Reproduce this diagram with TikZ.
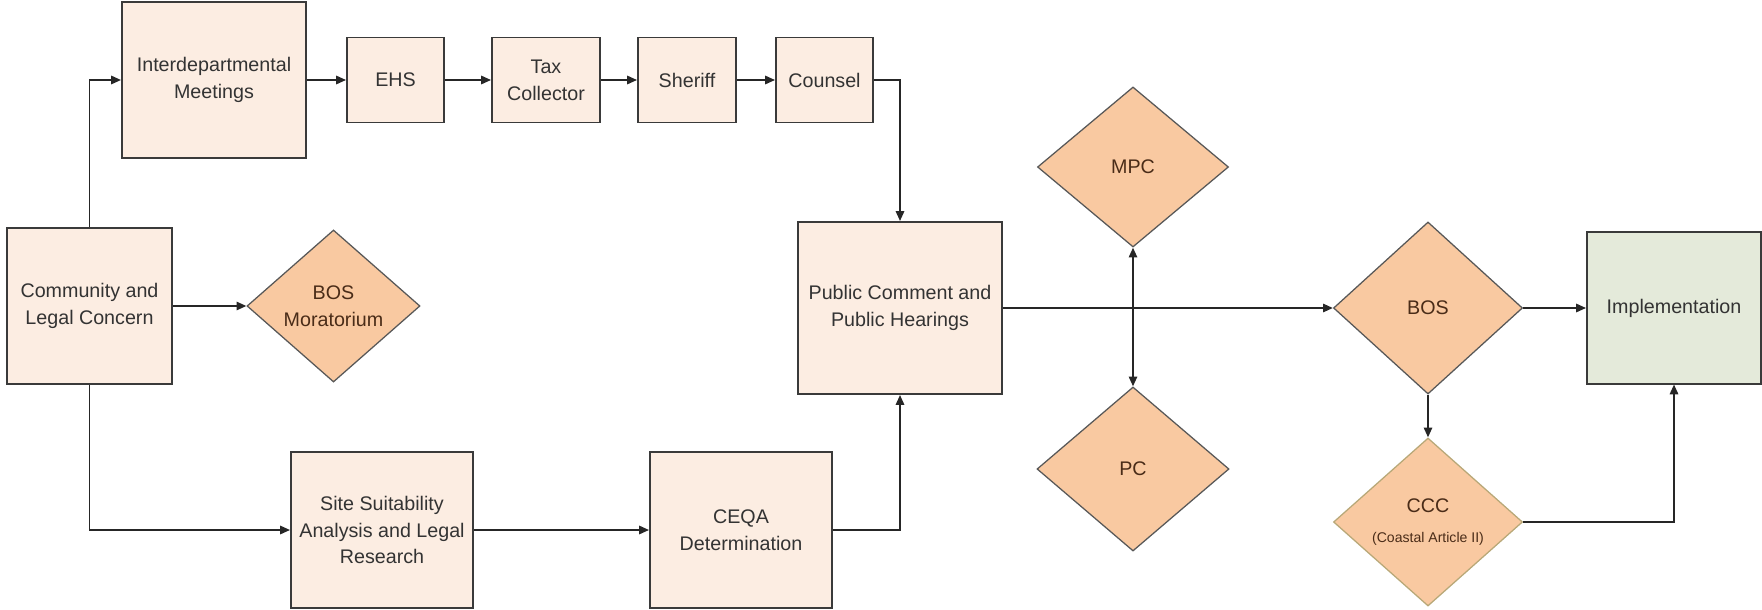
\documentclass[tikz,border=0pt]{standalone}
\usepackage{fontspec}
\setmainfont{Liberation Sans}
\usetikzlibrary{shapes.geometric,arrows.meta}

\definecolor{boxfill}{HTML}{FCEDE2}
\definecolor{decfill}{HTML}{F9C9A1}
\definecolor{implfill}{HTML}{E4EADA}
\definecolor{edgegray}{HTML}{3A3A3A}
\definecolor{ccctan}{HTML}{B8A878}
\definecolor{dectext}{HTML}{4A2C18}

\begin{document}
\begin{tikzpicture}[x=0.025cm, y=-0.025cm,
        box/.style={draw=edgegray, line width=1.4pt, fill=boxfill, align=center, inner sep=0pt,
            font=\fontsize{14}{19}\selectfont, text=black!80},
        decision/.style={diamond, draw=edgegray!85, line width=0.9pt, fill=decfill, align=center,
            inner sep=0pt, font=\fontsize{14}{19}\selectfont, text=dectext},
        arr/.style={-{Triangle[length=7pt,width=6pt]}, line width=1.2pt, draw=black!85}]
        \useasboundingbox (0,0) rectangle (1762,610);

        % left column and top row
        \node[box, minimum width=4.125cm, minimum height=3.9cm] (comm) at (89.5,306) {Community and\\Legal Concern};
        \node[box, minimum width=4.6cm, minimum height=3.9cm] (intm) at (214,80) {Interdepartmental\\Meetings};
        \foreach \name/\x/\w/\txt in {ehs/395.5/2.425/EHS, tax/546/2.7/{Tax\\Collector}, sher/687/2.45/Sheriff, coun/824.5/2.425/Counsel}
        {
            \node[box, minimum width=\w cm, minimum height=2.125cm] (\name) at (\x,80) {\txt};
        }
        \node[decision, minimum width=4.325cm, minimum height=3.8cm] (bosm) at (333.5,306) {BOS\\Moratorium};

        % bottom row
        \node[box, minimum width=4.55cm, minimum height=3.9cm] (site) at (382,530) {Site Suitability\\Analysis and Legal\\Research};
        \node[box, minimum width=4.55cm, minimum height=3.9cm] (ceqa) at (741,530) {CEQA\\Determination};

        % hearings and decisions
        \node[box, minimum width=5.1cm, minimum height=4.3cm] (pub) at (900,308) {Public Comment and\\Public Hearings};
        \node[decision, minimum width=4.775cm, minimum height=4cm] (mpc) at (1133,167) {MPC};
        \node[decision, minimum width=4.8cm, minimum height=4.1cm] (pc) at (1133,469) {PC};
        \node[decision, minimum width=4.725cm, minimum height=4.3cm] (bos) at (1428,308) {BOS};
        \node[decision, draw=ccctan, minimum width=4.725cm, minimum height=4.2cm] (ccc) at (1428,522)
            {CCC\\[2pt]{\fontsize{10}{12}\selectfont (Coastal Article II)}};
        \node[box, fill=implfill, minimum width=4.35cm, minimum height=3.775cm] (impl) at (1674,308) {Implementation};

        \draw[arr] (comm.north) |- (intm.west);
        \foreach \a/\b in {intm/ehs, ehs/tax, tax/sher, sher/coun}
        {
            \draw[arr] (\a.east) -- (\b.west);
        }
        \draw[arr] (comm.east) -- (bosm.west);
        \draw[arr] (comm.south) |- (site.west);
        \draw[arr] (site.east) -- (ceqa.west);
        \draw[arr] (coun.east) -| (pub.north);
        \draw[arr] (ceqa.east) -| (pub.south);
        \draw[arr] (pub.east) -- (bos.west);
        \draw[arr, {Triangle[length=7pt,width=6pt]}-{Triangle[length=7pt,width=6pt]}] (mpc.south) -- (pc.north);
        \draw[arr] (bos.east) -- (impl.west);
        \draw[arr] (bos.south) -- (ccc.north);
        \draw[arr] (ccc.east) -| (impl.south);
    \end{tikzpicture}
\end{document}
